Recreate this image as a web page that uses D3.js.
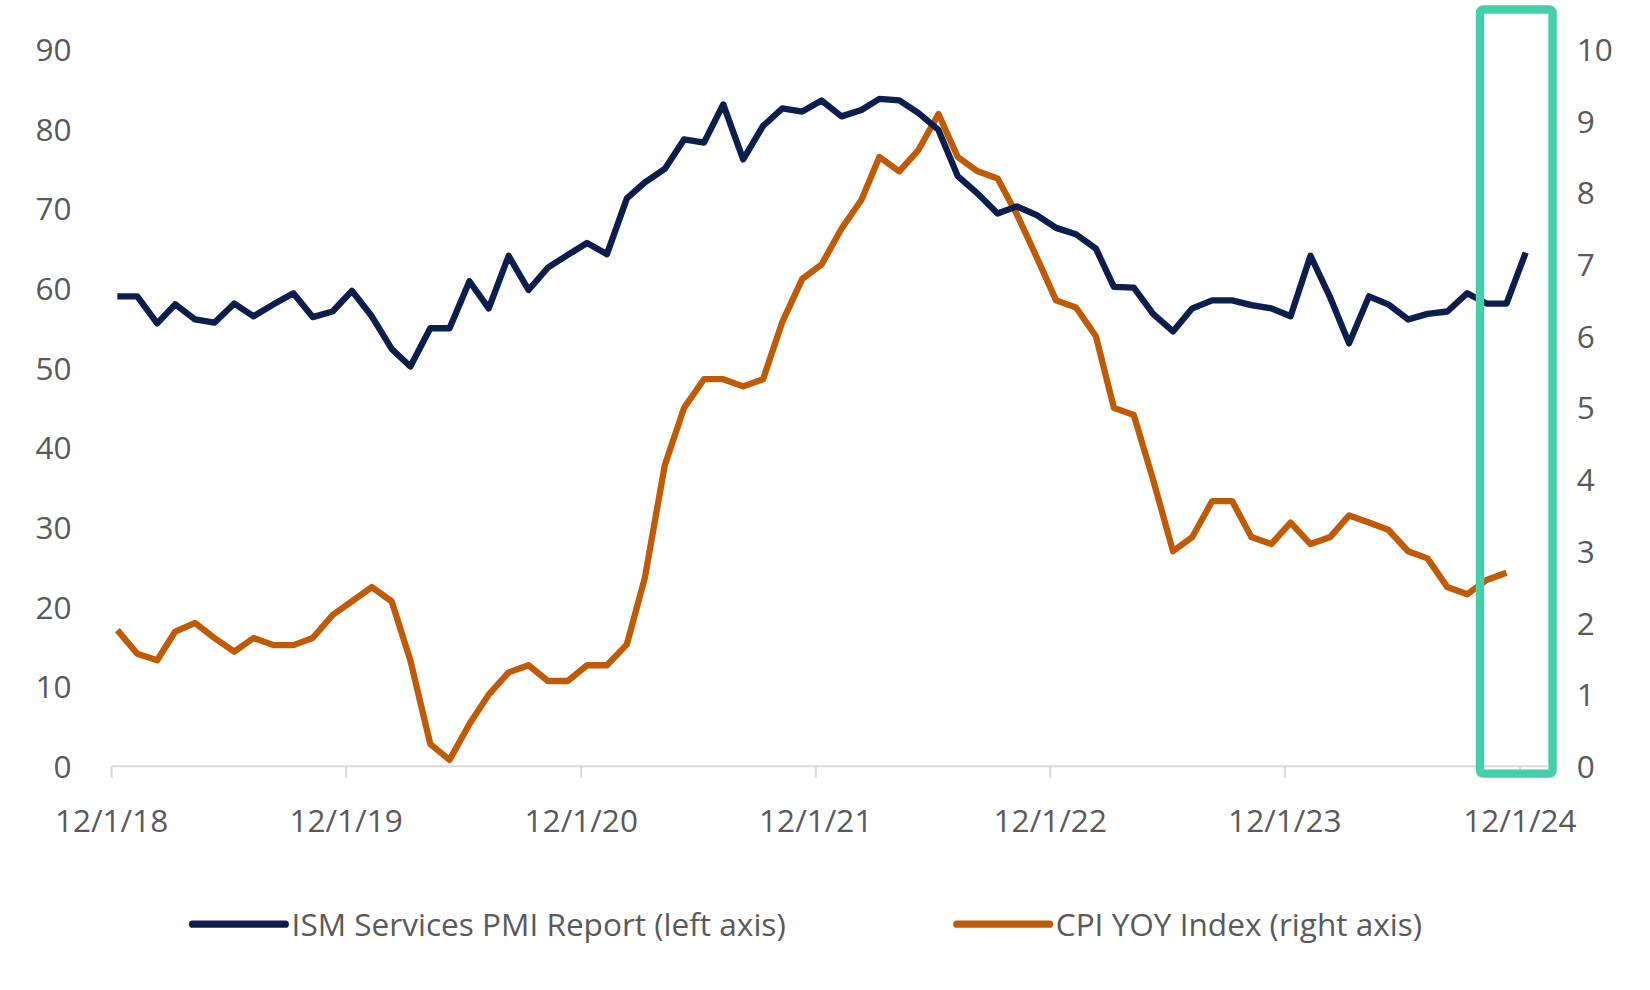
<!DOCTYPE html>
<html><head><meta charset="utf-8">
<script src="https://cdn.jsdelivr.net/npm/d3@7"></script>
<style>body{margin:0;background:#fff}text{font-family:"Open Sans","Liberation Sans",sans-serif}</style>
</head><body><svg id="c" width="1650" height="990"></svg>
<script>
const startYear = 2018, startMonth = 11; // Dec 2018
const ismValues = [59.0,59.0,55.6,58.0,56.1,55.7,58.1,56.5,58.0,59.4,56.4,57.1,59.7,
56.5,52.4,50.2,55.0,55.0,60.9,57.5,64.1,59.8,62.6,64.2,65.7,
64.3,71.3,73.3,75.0,78.7,78.3,83.1,76.2,80.4,82.6,82.2,83.6,
81.6,82.4,83.8,83.6,82.0,79.9,74.1,71.9,69.4,70.3,69.2,67.6,
66.8,65.0,60.2,60.1,56.8,54.6,57.5,58.5,58.5,57.9,57.5,56.5,
64.1,58.8,53.1,59.0,58.0,56.1,56.8,57.1,59.4,58.1,58.1,64.5];
const cpiValues = [1.9,1.57,1.48,1.88,2.0,1.79,1.6,1.79,1.69,1.69,1.79,2.11,2.3,
2.5,2.3,1.48,0.31,0.09,0.59,1.0,1.31,1.41,1.19,1.19,1.41,
1.41,1.7,2.63,4.2,5.0,5.4,5.4,5.3,5.4,6.2,6.8,7.0,
7.5,7.9,8.5,8.3,8.6,9.1,8.5,8.3,8.2,7.7,7.1,6.5,
6.4,6.0,5.0,4.9,4.0,3.0,3.2,3.7,3.7,3.2,3.1,3.4,
3.1,3.2,3.5,3.4,3.3,3.0,2.9,2.5,2.4,2.6,2.7];
const leftTicks = [0,10,20,30,40,50,60,70,80,90];
const rightTicks = [0,1,2,3,4,5,6,7,8,9,10];
const xTickLabels = ["12/1/18","12/1/19","12/1/20","12/1/21","12/1/22","12/1/23","12/1/24"];
const seriesNames = ["ISM Services PMI Report (left axis)","CPI YOY Index (right axis)"];

const svg = d3.select("#c").append("g").attr("transform","scale(1.0526)");
const dateOf = i => new Date(startYear, startMonth + i, 10);
const x = d3.scaleTime().domain([new Date(2018,11,1), new Date(2024,11,1)]).range([106,1444]);
const yL = d3.scaleLinear().domain([0,90]).range([728,47]);
const yR = d3.scaleLinear().domain([0,10]).range([728,47]);
const grey="#595959";

svg.append("line").attr("x1",106).attr("x2",1470).attr("y1",728).attr("y2",728).attr("stroke","#d9d9d9").attr("stroke-width",2);
xTickLabels.forEach((t,i)=>{
  const xx = x(new Date(2018+i,11,1));
  svg.append("line").attr("x1",xx).attr("x2",xx).attr("y1",728).attr("y2",739).attr("stroke","#d9d9d9").attr("stroke-width",2);
  svg.append("text").attr("x",xx).attr("y",790).attr("text-anchor","middle").attr("font-size",30).attr("fill",grey).text(t);
});
leftTicks.forEach(v=>svg.append("text").attr("x",68).attr("y",yL(v)+11).attr("text-anchor","end").attr("font-size",30).attr("fill",grey).text(v));
rightTicks.forEach(v=>svg.append("text").attr("x",1498).attr("y",yR(v)+11).attr("text-anchor","start").attr("font-size",30).attr("fill",grey).text(v));

const lineL = d3.line().x((d,i)=>x(dateOf(i))).y(d=>yL(d));
const lineR = d3.line().x((d,i)=>x(dateOf(i))).y(d=>yR(d));
svg.append("path").attr("d",lineR(cpiValues)).attr("fill","none").attr("stroke","#c05a05").attr("stroke-width",6).attr("stroke-linejoin","round");
svg.append("path").attr("d",lineL(ismValues)).attr("fill","none").attr("stroke","#0c1e4b").attr("stroke-width",6).attr("stroke-linejoin","round");

svg.append("rect").attr("x",1406).attr("y",9).attr("width",69).attr("height",726).attr("fill","none").attr("stroke","#45cfa8").attr("stroke-width",8).attr("rx",3);

const leg=[[183,seriesNames[0],"#0c1e4b"],[909,seriesNames[1],"#c05a05"]];
leg.forEach(([lx,t,c])=>{
  svg.append("line").attr("x1",lx).attr("x2",lx+88).attr("y1",878).attr("y2",878).attr("stroke",c).attr("stroke-width",7).attr("stroke-linecap","round");
  svg.append("text").attr("x",lx+94).attr("y",889).attr("font-size",30).attr("fill",grey).text(t);
});
</script></body></html>
